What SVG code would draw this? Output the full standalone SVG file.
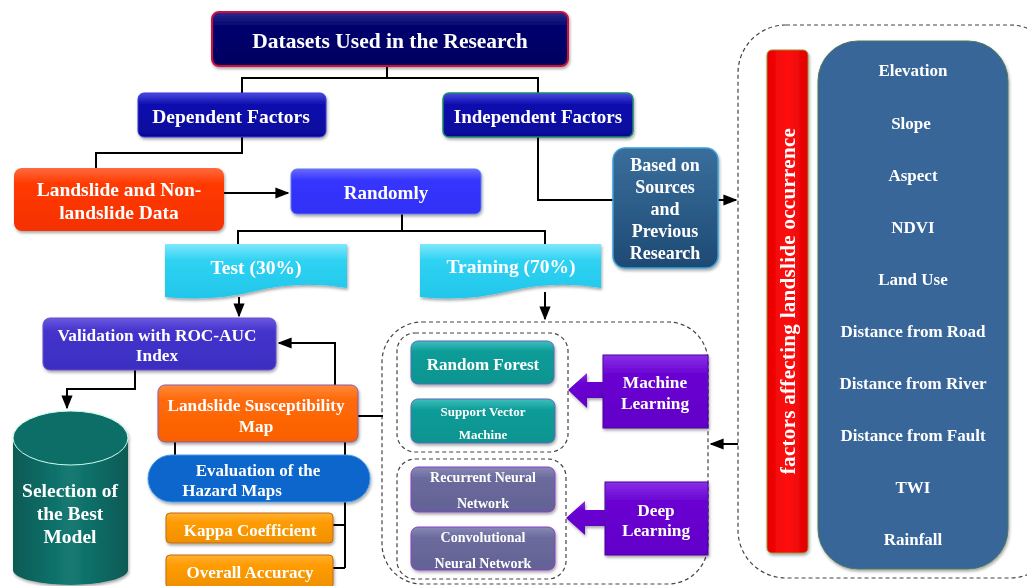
<svg xmlns="http://www.w3.org/2000/svg" width="1027" height="586" viewBox="0 0 1027 586">
<defs>
  <style>
    text{font-family:"Liberation Serif","Times New Roman",serif;font-weight:bold;fill:#fff;text-anchor:middle}
    .ln{fill:none;stroke:#000;stroke-width:2}
    .dash{fill:none;stroke:#444;stroke-width:1.2;stroke-dasharray:4 3}
    .sh{filter:url(#shadow)}
  </style>
  <filter id="shadow" x="-10%" y="-10%" width="120%" height="130%">
    <feDropShadow dx="1" dy="2" stdDeviation="1.5" flood-color="#000" flood-opacity="0.35"/>
  </filter>
  <marker id="arr" viewBox="0 0 10 10" refX="9" refY="5" markerWidth="7" markerHeight="7" orient="auto">
    <path d="M0,1 L10,5 L0,9 Z" fill="#000"/>
  </marker>
  <linearGradient id="gNavy" x1="0" y1="0" x2="0" y2="1"><stop offset="0" stop-color="#2a2a90"/><stop offset="0.25" stop-color="#05056e"/><stop offset="1" stop-color="#000060"/></linearGradient>
  <linearGradient id="gBlue" x1="0" y1="0" x2="0" y2="1"><stop offset="0" stop-color="#4a4ae0"/><stop offset="0.25" stop-color="#1010b0"/><stop offset="1" stop-color="#06069a"/></linearGradient>
  <linearGradient id="gRed" x1="0" y1="0" x2="0" y2="1"><stop offset="0" stop-color="#ff6a40"/><stop offset="0.25" stop-color="#ff3a00"/><stop offset="1" stop-color="#f53000"/></linearGradient>
  <linearGradient id="gRand" x1="0" y1="0" x2="0" y2="1"><stop offset="0" stop-color="#6a6aff"/><stop offset="0.25" stop-color="#3535ff"/><stop offset="1" stop-color="#3030f5"/></linearGradient>
  <linearGradient id="gCyan" x1="0" y1="0" x2="0" y2="1"><stop offset="0" stop-color="#7fe8fb"/><stop offset="0.3" stop-color="#2fd2f2"/><stop offset="1" stop-color="#22c6ea"/></linearGradient>
  <linearGradient id="gVal" x1="0" y1="0" x2="0" y2="1"><stop offset="0" stop-color="#6a5ae0"/><stop offset="0.25" stop-color="#4434cc"/><stop offset="1" stop-color="#3a2ec0"/></linearGradient>
  <linearGradient id="gOr" x1="0" y1="0" x2="0" y2="1"><stop offset="0" stop-color="#ff8a3a"/><stop offset="0.25" stop-color="#ff6a0a"/><stop offset="1" stop-color="#fa6000"/></linearGradient>
  <linearGradient id="gAmb" x1="0" y1="0" x2="0" y2="1"><stop offset="0" stop-color="#ffb233"/><stop offset="0.3" stop-color="#ff9c05"/><stop offset="1" stop-color="#f09000"/></linearGradient>
  <linearGradient id="gTeal" x1="0" y1="0" x2="0" y2="1"><stop offset="0" stop-color="#3ec0bc"/><stop offset="0.25" stop-color="#0c9c98"/><stop offset="1" stop-color="#089490"/></linearGradient>
  <linearGradient id="gSlate" x1="0" y1="0" x2="0" y2="1"><stop offset="0" stop-color="#8a8ab8"/><stop offset="0.25" stop-color="#6a6a9c"/><stop offset="1" stop-color="#626296"/></linearGradient>
  <linearGradient id="gPur" x1="0" y1="0" x2="0" y2="1"><stop offset="0" stop-color="#8a30e8"/><stop offset="0.25" stop-color="#6a06d2"/><stop offset="1" stop-color="#6200c8"/></linearGradient>
  <linearGradient id="gSteel" x1="0" y1="0" x2="0" y2="1"><stop offset="0" stop-color="#3a6e9c"/><stop offset="1" stop-color="#1e4a74"/></linearGradient>
  <linearGradient id="gBar" x1="0" y1="0" x2="1" y2="0"><stop offset="0" stop-color="#e80000"/><stop offset="0.5" stop-color="#ff1010"/><stop offset="1" stop-color="#e00000"/></linearGradient>
  <linearGradient id="gCyl" x1="0" y1="0" x2="1" y2="0"><stop offset="0" stop-color="#0a5a55"/><stop offset="0.5" stop-color="#137a73"/><stop offset="1" stop-color="#0a5a55"/></linearGradient>
</defs>

<!-- dashed containers -->
<g id="containers">
  <rect class="dash" x="738" y="25" width="320" height="553" rx="48"/>
  <rect class="dash" x="382" y="322" width="326" height="262" rx="40"/>
  <rect class="dash" x="397" y="333" width="171" height="119" rx="18"/>
  <rect class="dash" x="397" y="459" width="169" height="120" rx="18"/>
</g>

<g id="connectors">
  <path class="ln" d="M387,66 V78 M242,93 V78 H538 V93"/>
  <path class="ln" d="M242,137 V153 H96 V168"/>
  <path class="ln" d="M224,193 H288" marker-end="url(#arr)"/>
  <path class="ln" d="M402,214 V231 M238,244 V231 H545 V244"/>
  <path class="ln" d="M239,297 V316" marker-end="url(#arr)"/>
  <path class="ln" d="M545,292 V319" marker-end="url(#arr)"/>
  <path class="ln" d="M538,137 V200 H613"/>
  <path class="ln" d="M718,200 H736" marker-end="url(#arr)"/>
  <path class="ln" d="M738,444 H711" marker-end="url(#arr)"/>
  <path class="ln" d="M135,370 V389 H67 V408" marker-end="url(#arr)"/>
  <path class="ln" d="M335,385 V343 H279" marker-end="url(#arr)"/>
  <path class="ln" d="M358,416 H383"/>
  <path class="ln" d="M175,442 V458 M345,442 V568 M333,525 H345 M333,568 H345"/>
</g>

<g id="title" class="sh">
  <rect x="212" y="12" width="356" height="54" rx="7" fill="url(#gNavy)" stroke="#d0103a" stroke-width="2"/>
  <text x="390" y="48" font-size="21.5">Datasets Used in the Research</text>
</g>
<g id="dependent" class="sh">
  <rect x="138" y="93" width="188" height="44" rx="6" fill="url(#gBlue)" stroke="#3a3ad0" stroke-width="1"/>
  <text x="231" y="123" font-size="19.5">Dependent Factors</text>
</g>
<g id="independent" class="sh">
  <rect x="443" y="93" width="190" height="44" rx="6" fill="url(#gBlue)" stroke="#1a8a6a" stroke-width="1.5"/>
  <text x="538" y="123" font-size="19">Independent Factors</text>
</g>
<g id="landslide" class="sh">
  <rect x="14" y="168" width="210" height="63" rx="8" fill="url(#gRed)"/>
  <text x="119" y="196" font-size="19.5">Landslide and Non-</text>
  <text x="119" y="219" font-size="19.5">landslide Data</text>
</g>
<g id="randomly" class="sh">
  <rect x="291" y="169" width="190" height="45" rx="6" fill="url(#gRand)" stroke="#5a7ae8" stroke-width="1"/>
  <text x="386" y="199" font-size="19">Randomly</text>
</g>
<g id="test" class="sh">
  <path d="M165,244 H347 V288 Q300,280 256,291 T165,297 Z" fill="url(#gCyan)"/>
  <text x="256" y="274" font-size="19.5">Test (30%)</text>
</g>
<g id="training" class="sh">
  <path d="M420,244 H601 V288 Q555,280 510,291 T420,297 Z" fill="url(#gCyan)"/>
  <text x="511" y="273" font-size="19.5">Training (70%)</text>
</g>
<g id="based" class="sh">
  <rect x="613" y="148" width="105" height="120" rx="12" fill="url(#gSteel)" stroke="#3aa0d8" stroke-width="1.5"/>
  <text x="665" y="171" font-size="18">Based on</text>
  <text x="665" y="193" font-size="18">Sources</text>
  <text x="665" y="215" font-size="18">and</text>
  <text x="665" y="237" font-size="18">Previous</text>
  <text x="665" y="259" font-size="18">Research</text>
</g>
<g id="validation" class="sh">
  <rect x="43" y="318" width="233" height="52" rx="7" fill="url(#gVal)" stroke="#6a4ac8" stroke-width="1"/>
  <text x="157" y="341" font-size="17.3">Validation with ROC-AUC</text>
  <text x="157" y="361" font-size="17.3">Index</text>
</g>
<g id="selection" class="sh">
  <path d="M13,438 V570 A57.5,15 0 0 0 128,570 V438 Z" fill="url(#gCyl)"/>
  <ellipse cx="70.5" cy="438" rx="57.5" ry="27" fill="#0d6e68" stroke="#cfe" stroke-width="1"/>
  <text x="70" y="497" font-size="19.5">Selection of</text>
  <text x="70" y="520" font-size="19.5">the Best</text>
  <text x="70" y="543" font-size="19.5">Model</text>
</g>
<g id="lsm" class="sh">
  <rect x="158" y="385" width="200" height="57" rx="7" fill="url(#gOr)" stroke="#8a5aa8" stroke-width="1"/>
  <text x="256" y="411" font-size="17.3">Landslide Susceptibility</text>
  <text x="256" y="432" font-size="17.3">Map</text>
</g>
<g id="evaluation" class="sh">
  <rect x="148" y="455" width="222" height="47" rx="23.5" fill="#0866cc" stroke="#4a9ae8" stroke-width="1"/>
  <text x="258" y="476" font-size="17">Evaluation of the</text>
  <text x="232" y="496" font-size="17">Hazard Maps</text>
</g>
<g id="kappa" class="sh">
  <rect x="166" y="513" width="167" height="30" rx="4" fill="url(#gAmb)" stroke="#c06a10" stroke-width="1"/>
  <text x="250" y="536" font-size="17">Kappa Coefficient</text>
</g>
<g id="overall" class="sh">
  <rect x="166" y="555" width="167" height="33" rx="4" fill="url(#gAmb)" stroke="#c06a10" stroke-width="1"/>
  <text x="250" y="578" font-size="17">Overall Accuracy</text>
</g>
<g id="rf" class="sh">
  <rect x="411" y="341" width="143" height="43" rx="7" fill="url(#gTeal)" stroke="#5a6ab8" stroke-width="1"/>
  <text x="483" y="370" font-size="17">Random Forest</text>
</g>
<g id="svm" class="sh">
  <rect x="411" y="399" width="144" height="44" rx="7" fill="url(#gTeal)" stroke="#5a6ab8" stroke-width="1"/>
  <text x="483" y="416" font-size="13">Support Vector</text>
  <text x="483" y="439" font-size="13">Machine</text>
</g>
<g id="rnn" class="sh">
  <rect x="411" y="467" width="144" height="45" rx="7" fill="url(#gSlate)" stroke="#8a40c0" stroke-width="1"/>
  <text x="483" y="482" font-size="14">Recurrent Neural</text>
  <text x="483" y="508" font-size="14">Network</text>
</g>
<g id="cnn" class="sh">
  <rect x="411" y="527" width="144" height="43" rx="7" fill="url(#gSlate)" stroke="#8a40c0" stroke-width="1"/>
  <text x="483" y="542" font-size="14">Convolutional</text>
  <text x="483" y="568" font-size="14">Neural Network</text>
</g>
<g id="ml" class="sh">
  <polygon points="568,390 587,373 587,382 604,382 604,398 587,398 587,408" fill="url(#gPur)"/>
  <rect x="603" y="355" width="105" height="73" fill="url(#gPur)" stroke="#4a0a9a" stroke-width="1"/>
  <text x="655" y="388" font-size="17.3">Machine</text>
  <text x="655" y="409" font-size="17.3">Learning</text>
</g>
<g id="dl" class="sh">
  <polygon points="566,518 585,501 585,510 606,510 606,526 585,526 585,535" fill="url(#gPur)"/>
  <rect x="605" y="482" width="103" height="73" fill="url(#gPur)" stroke="#4a0a9a" stroke-width="1"/>
  <text x="656" y="516" font-size="17.3">Deep</text>
  <text x="656" y="536" font-size="17.3">Learning</text>
</g>
<g id="factors-bar" class="sh">
  <rect x="767" y="50" width="41" height="503" rx="5" fill="url(#gBar)" stroke="#a08a30" stroke-width="1"/>
  <text transform="translate(795,301) rotate(-90)" font-size="21" letter-spacing="0.3">factors affecting landslide occurrence</text>
</g>
<g id="factors-list" class="sh">
  <rect x="818" y="41" width="190" height="528" rx="40" fill="#386699" stroke="#4a7a5a" stroke-width="1"/>
  <text x="913" y="76" font-size="17">Elevation</text>
  <text x="911" y="129" font-size="17">Slope</text>
  <text x="913" y="181" font-size="17">Aspect</text>
  <text x="913" y="233" font-size="17">NDVI</text>
  <text x="913" y="285" font-size="17">Land Use</text>
  <text x="913" y="337" font-size="17">Distance from Road</text>
  <text x="913" y="389" font-size="17">Distance from River</text>
  <text x="913" y="441" font-size="17">Distance from Fault</text>
  <text x="913" y="493" font-size="17">TWI</text>
  <text x="913" y="545" font-size="17">Rainfall</text>
</g>
</svg>
